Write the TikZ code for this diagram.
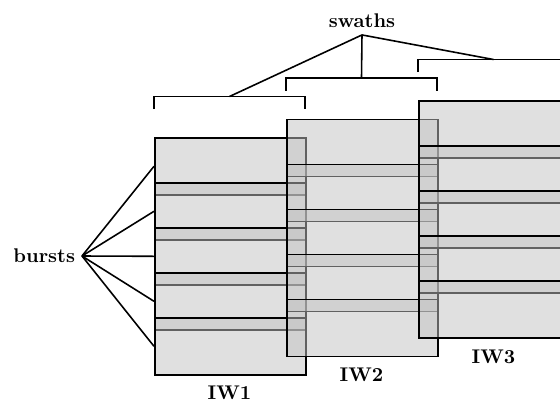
\documentclass[tikz,border=0pt]{standalone}
\begin{document}
\begin{tikzpicture}[x=0.505pt,y=-0.505pt,
  burst/.style={draw=black, fill=black!24, fill opacity=0.5, draw opacity=1, line width=0.8pt,
    minimum width=151*0.505pt, minimum height=57*0.505pt, inner sep=0pt, anchor=north west},
  bracketline/.style={draw=black, line width=0.8pt},
  conn/.style={draw=black, line width=0.8pt},
  lbl/.style={font=\bfseries}]
\clip (0,0) rectangle (560,403);
% bursts of the three swaths
\foreach \k in {0,1,2}{
  \foreach \j in {0,...,4}{
    \node[burst] (b\k\j) at ({154+132*\k},{137-18.5*\k+45*\j}) {};
  }
}
% brackets above the swaths
\foreach \k in {0,1,2}{
  \pgfmathsetmacro{\l}{154+132*\k}
  \pgfmathsetmacro{\r}{305+132*\k}
  \pgfmathsetmacro{\by}{137-18.5*\k-40.5}
  \pgfmathsetmacro{\ty}{137-18.5*\k-28}
  \draw[bracketline] (\l,\ty) -- (\l,\by) -- (\r,\by) -- (\r,\ty);
  \coordinate (sw\k) at ({(\l+\r)/2},\by);
}
% labels
\node[lbl] (swaths) at (362,21) {swaths};
\node[lbl, anchor=east] (bursts) at (82,256) {bursts};
\node[lbl] (iw1) at (229.5,393) {IW1};
\node[lbl] (iw2) at (361.5,375) {IW2};
\node[lbl] (iw3) at (493.5,356.5) {IW3};
% connectors
\foreach \k in {0,1,2}{
  \draw[conn] (swaths.south) -- (sw\k);
}
\foreach \j in {0,...,4}{
  \draw[conn] (bursts.east) -- (b0\j.west);
}
\end{tikzpicture}
\end{document}
